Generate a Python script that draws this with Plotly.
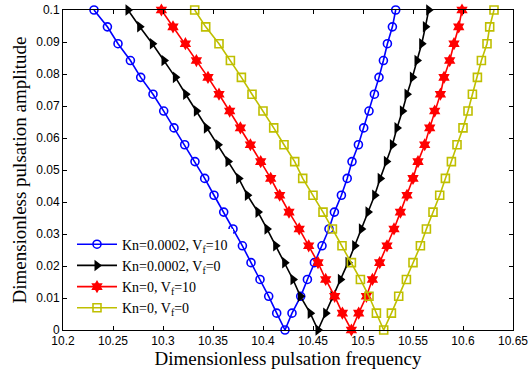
import plotly.graph_objects as go

# amplitude levels (top to bottom)
amp = [0.1, 0.09474, 0.08947, 0.08421, 0.07895, 0.07368, 0.06842, 0.06316, 0.05789, 0.05263,
       0.04737, 0.04211, 0.03684, 0.03158, 0.02632, 0.02105, 0.01579, 0.01053, 0.00526, 0.0]

# left and right arms of each curve (frequency at each amplitude level, top to bottom)
blue_left = [10.231, 10.2444, 10.255, 10.2674, 10.2777, 10.290, 10.3007, 10.311, 10.3217, 10.332,
             10.3417, 10.351, 10.3607, 10.370, 10.3794, 10.388, 10.397, 10.4057, 10.4137, 10.422]
blue_right = [10.5327, 10.5294, 10.5244, 10.5204, 10.516, 10.5114, 10.506, 10.5007, 10.4954, 10.489,
              10.4842, 10.4784, 10.4714, 10.466, 10.459, 10.4514, 10.4444, 10.4377, 10.429, 10.422]

black_left = [10.265, 10.2767, 10.2894, 10.301, 10.3124, 10.3227, 10.3334, 10.3434, 10.355, 10.365,
              10.3757, 10.3844, 10.395, 10.404, 10.4127, 10.4217, 10.430, 10.4374, 10.4472, 10.455]
black_right = [10.5657, 10.5624, 10.5587, 10.554, 10.5494, 10.544, 10.5394, 10.534, 10.5294, 10.5234,
               10.5172, 10.5117, 10.505, 10.4984, 10.4917, 10.485, 10.4774, 10.470, 10.4627, 10.455]

red_left = [10.2984, 10.310, 10.3224, 10.3334, 10.345, 10.356, 10.3667, 10.3774, 10.3874, 10.3977,
            10.4077, 10.4167, 10.426, 10.4362, 10.4457, 10.455, 10.4627, 10.4717, 10.4794, 10.4884]
red_right = [10.599, 10.5957, 10.591, 10.5867, 10.581, 10.5774, 10.5717, 10.5667, 10.5617, 10.555,
             10.550, 10.544, 10.5374, 10.531, 10.524, 10.5167, 10.5094, 10.5034, 10.4957, 10.4884]

yellow_left = [10.3317, 10.3427, 10.356, 10.3674, 10.3784, 10.389, 10.400, 10.4107, 10.421, 10.4317,
               10.4397, 10.450, 10.460, 10.4694, 10.479, 10.4884, 10.4974, 10.506, 10.5134, 10.5207]
yellow_right = [10.631, 10.6267, 10.624, 10.6184, 10.6144, 10.6094, 10.605, 10.600, 10.594, 10.5884,
                10.5824, 10.5767, 10.570, 10.5634, 10.5574, 10.550, 10.5434, 10.5357, 10.5284, 10.5207]

names = ["Kn=0.0002, V<sub>f</sub>=10", "Kn=0.0002, V<sub>f</sub>=0",
         "Kn=0, V<sub>f</sub>=10", "Kn=0, V<sub>f</sub>=0"]

x_ticks = [10.2, 10.25, 10.3, 10.35, 10.4, 10.45, 10.5, 10.55, 10.6, 10.65]
x_tick_text = ["10.2", "10.25", "10.3", "10.35", "10.4", "10.45", "10.5", "10.55", "10.6", "10.65"]
y_ticks = [0, 0.01, 0.02, 0.03, 0.04, 0.05, 0.06, 0.07, 0.08, 0.09, 0.1]
y_tick_text = ["0", "0.01", "0.02", "0.03", "0.04", "0.05", "0.06", "0.07", "0.08", "0.09", "0.1"]

series = [
    (blue_left, blue_right, "#0000ff", dict(symbol="circle-open", size=8, line=dict(width=1.6))),
    (black_left, black_right, "#000000", dict(symbol="triangle-right", size=10)),
    (red_left, red_right, "#ff0000", dict(symbol="hexagram", size=10)),
    (yellow_left, yellow_right, "#bfbf00", dict(symbol="square-open", size=8, line=dict(width=1.6))),
]

fig = go.Figure()
for (left, right, color, marker), name in zip(series, names):
    xs = left + right[::-1][1:]
    ys = amp + amp[::-1][1:]
    m = dict(marker)
    m["color"] = color
    if "line" in m:
        m["line"] = dict(m["line"], color=color)
    fig.add_trace(go.Scatter(x=xs, y=ys, mode="lines+markers", name=name,
                             line=dict(color=color, width=1.6), marker=m, cliponaxis=False))

axis_common = dict(showline=True, linecolor="black", linewidth=1, mirror="ticks",
                   ticks="inside", ticklen=4, tickcolor="black", showgrid=False, zeroline=False,
                   automargin=False,
                   tickfont=dict(family="Liberation Sans, Arial", size=12, color="black"))

title_font = dict(family="Liberation Serif, Times New Roman", size=19, color="black")

fig.update_layout(
    width=531, height=372,
    margin=dict(l=63, r=18, t=10, b=42),
    paper_bgcolor="white", plot_bgcolor="white",
    showlegend=True,
    legend=dict(x=0.02, y=0.02, xanchor="left", yanchor="bottom",
                bgcolor="white", borderwidth=0, itemwidth=40,
                font=dict(family="Liberation Serif, Times New Roman", size=14, color="black"),
                tracegroupgap=0),
    xaxis=dict(range=[10.2, 10.65], tickvals=x_ticks, ticktext=x_tick_text,
               title=dict(text="Dimensionless pulsation frequency", standoff=0, font=title_font),
               **axis_common),
    yaxis=dict(range=[0, 0.1], tickvals=y_ticks, ticktext=y_tick_text,
               title=dict(text="Dimensionless pulsation amplitude", standoff=4, font=title_font),
               **axis_common),
)

fig.write_html("out.html", config={"displayModeBar": False},
               post_script="document.body.style.margin='0';document.body.style.overflow='hidden';")
